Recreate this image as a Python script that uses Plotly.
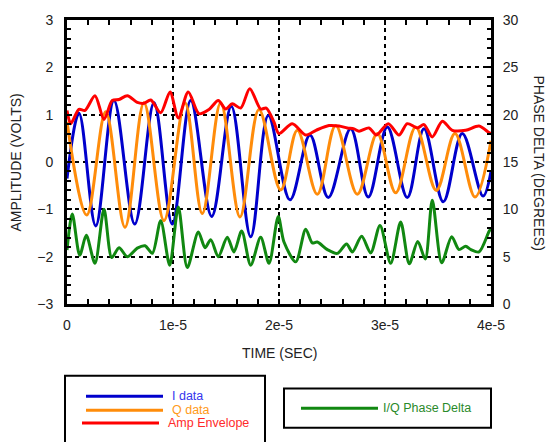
import plotly.graph_objects as go

# ---------------- data (time in microseconds) ----------------
i_t = [0, 1.13, 2.71, 4.43, 6.39, 8.21, 9.93, 11.67, 13.65, 15.50, 17.33, 18.99,
       21.04, 22.92, 24.65, 26.76, 28.42, 30.22, 32.10, 33.68, 35.50, 37.29, 39.25, 40.0]
i_v = [-0.35, 1.03, -1.35, 1.30, -1.31, 1.25, -1.31, 1.30, -1.15, 1.18, -1.58, 0.98,
       -0.80, 0.57, -0.75, 0.70, -0.74, 0.74, -0.75, 0.70, -0.84, 0.60, -0.72, -0.20]

q_t = [0, 1.86, 3.65, 5.47, 7.26, 9.15, 11.13, 12.76, 14.50, 16.32, 18.11,
       20.16, 21.73, 23.61, 25.35, 27.39, 29.27, 31.01, 32.90, 34.84, 36.60, 38.49, 40.0]
q_v = [0.85, -1.12, 1.06, -1.38, 1.25, -1.24, 1.25, -1.09, 1.25, -1.16, 1.11,
       -0.59, 0.67, -0.68, 0.77, -0.68, 0.60, -0.65, 0.74, -0.60, 0.60, -0.74, 0.45]

amp_t = [0, 0.35, 1.13, 1.70, 2.64, 3.49, 4.27, 4.91, 5.69, 6.63, 7.26, 7.90, 8.84,
         9.72, 10.50, 11.44, 12.45, 13.40, 14.27, 14.97, 15.59, 16.39, 17.24, 18.27,
         18.80, 19.53, 20.0, 21.25, 22.52, 23.49, 24.72, 25.66, 26.44, 27.08, 27.55,
         28.49, 29.18, 30.31, 31.32, 32.10, 33.05, 33.68, 34.46, 35.41, 36.35, 37.61,
         38.87, 39.81, 40.0]
amp_v = [1.09, 0.81, 1.11, 1.09, 1.40, 0.90, 1.30, 1.32, 1.40, 1.26, 1.24, 1.31, 1.04,
         1.48, 0.93, 1.48, 1.02, 1.11, 1.30, 1.12, 1.23, 1.14, 1.55, 1.12,
         1.14, 0.84, 0.60, 0.81, 0.57, 0.67, 0.77, 0.76, 0.72, 0.70, 0.65,
         0.72, 0.57, 0.81, 0.57, 0.81, 0.72, 0.79, 0.53, 0.86, 0.67, 0.67,
         0.76, 0.62, 0.60]

ph_t = [0, 0.5, 1.20, 1.82, 2.64, 3.49, 4.22, 4.91, 5.69, 6.63, 7.36, 8.05, 8.84,
        9.69, 10.50, 11.35, 12.39, 13.02, 13.56, 14.27, 15.12, 15.75, 16.48, 17.33,
        18.27, 19.06, 19.93, 20.47, 21.58, 22.52, 23.14, 23.61, 24.56, 25.50, 26.37,
        26.92, 27.80, 28.65, 29.53, 30.54, 31.48, 32.29, 33.09, 33.80, 34.46, 35.35,
        36.29, 36.98, 37.61, 38.11, 38.87, 39.81, 40.0]
ph_v = [5.7, 9.5, 5.15, 7.25, 4.3, 10.0, 4.9, 5.95, 5.0, 5.9, 6.15, 5.35, 8.8,
        4.1, 10.25, 3.85, 7.6, 5.95, 6.8, 5.0, 7.05, 5.5, 7.7, 4.1,
        7.05, 4.3, 9.25, 6.55, 4.45, 7.9, 6.45, 6.55, 5.75, 5.35, 6.35,
        5.5, 7.15, 5.4, 8.3, 4.3, 8.65, 4.25, 6.6, 4.75, 10.95, 4.35,
        7.1, 5.75, 6.1, 5.75, 5.5, 7.65, 8.0]

x_tickvals = [0, 1e-5, 2e-5, 3e-5, 4e-5]
x_ticktext = ["0", "1e-5", "2e-5", "3e-5", "4e-5"]

US = 1e-6
FONT = "Liberation Sans, Arial, sans-serif"
FS = 14

C_I, C_Q, C_A, C_P = "#0000cc", "#ff8c0a", "#ff0000", "#118811"

fig = go.Figure()
fig.add_trace(go.Scatter(x=[t * US for t in i_t], y=i_v, mode="lines",
                         line=dict(color=C_I, width=3, shape="spline", smoothing=1.0),
                         name="I data", showlegend=False))
fig.add_trace(go.Scatter(x=[t * US for t in q_t], y=q_v, mode="lines",
                         line=dict(color=C_Q, width=3, shape="spline", smoothing=1.0),
                         name="Q data", showlegend=False))
fig.add_trace(go.Scatter(x=[t * US for t in amp_t], y=amp_v, mode="lines",
                         line=dict(color=C_A, width=3, shape="spline", smoothing=0.8),
                         name="Amp Envelope", showlegend=False))
fig.add_trace(go.Scatter(x=[t * US for t in ph_t], y=ph_v, mode="lines", yaxis="y2",
                         line=dict(color=C_P, width=3, shape="spline", smoothing=0.8),
                         name="I/Q Phase Delta", showlegend=False))

# plot area in pixels
L, R, T, B = 67, 491, 15, 304
W, H = 550, 442


def px(x):
    return (x - L) / (R - L)


def py(y):
    return (B - y) / (B - T)


grid = dict(showgrid=True, gridcolor="black", gridwidth=2, griddash="4px,4px")
tickstyle = dict(ticks="inside", ticklen=5, tickwidth=1.5, tickcolor="black")

fig.update_layout(
    width=W, height=H,
    margin=dict(l=L, r=W - R, t=T, b=H - B),
    paper_bgcolor="white", plot_bgcolor="white",
    font=dict(family=FONT, size=FS, color="#222"),
    xaxis=dict(range=[0, 4e-5], tickmode="array", tickvals=x_tickvals, ticktext=x_ticktext,
               minor=dict(tickmode="linear", tick0=0, dtick=2e-6, ticks="inside",
                          ticklen=4, tickwidth=1.5, tickcolor="black", showgrid=False),
               showline=True, linecolor="black", linewidth=3, mirror="allticks",
               zeroline=False, tickfont=dict(size=FS, color="#222"),
               ticklabelstandoff=6, **tickstyle, **grid),
    yaxis=dict(range=[-3, 3], tickmode="linear", tick0=-3, dtick=1,
               minor=dict(tickmode="linear", tick0=-3, dtick=0.2, ticks="inside",
                          ticklen=4, tickwidth=1.5, tickcolor="black", showgrid=False),
               showline=True, linecolor="black", linewidth=3, mirror="allticks",
               zeroline=False, tickfont=dict(size=FS, color="#222"),
               ticklabelstandoff=8, **tickstyle, **grid),
    yaxis2=dict(range=[0, 30], overlaying="y", side="right", tickmode="linear",
                tick0=0, dtick=5,
                minor=dict(tickmode="linear", tick0=0, dtick=1, ticks="inside",
                           ticklen=4, tickwidth=1.5, tickcolor="black", showgrid=False),
                showgrid=False, zeroline=False,
                showline=True, linecolor="black", linewidth=3,
                tickfont=dict(size=FS, color="#222"), ticklabelstandoff=6, **tickstyle),
    showlegend=False,
)

ann = []
ann.append(dict(text="TIME (SEC)", x=px(279), y=py(354), xref="paper", yref="paper",
                showarrow=False, font=dict(size=FS, color="#222"), xanchor="center", yanchor="middle"))
ann.append(dict(text="AMPLITUDE (VOLTS)", x=px(16), y=py(160), xref="paper", yref="paper",
                showarrow=False, textangle=-90, font=dict(size=FS, color="#222"),
                xanchor="center", yanchor="middle"))
ann.append(dict(text="PHASE DELTA (DEGREES)", x=px(539), y=py(160), xref="paper", yref="paper",
                showarrow=False, textangle=90, font=dict(size=FS, color="#222"),
                xanchor="center", yanchor="middle"))

shapes = []
# legend boxes
shapes.append(dict(type="rect", xref="paper", yref="paper", x0=px(65), x1=px(265),
                   y0=py(460), y1=py(377), line=dict(color="black", width=2)))
shapes.append(dict(type="rect", xref="paper", yref="paper", x0=px(284), x1=px(491),
                   y0=py(430), y1=py(390), line=dict(color="black", width=2)))

legend_items = [
    ("I data", C_I, "#3535ee", 86, 163, 398, 171),
    ("Q data", C_Q, "#ff9a1a", 86, 163, 412, 171),
    ("Amp Envelope", C_A, "#ff2a2a", 82, 159, 425, 167),
    ("I/Q Phase Delta", C_P, "#2a8a2a", 301, 378, 410, 382),
]
for name, lc, tc, x0, x1, yy, tx in legend_items:
    shapes.append(dict(type="line", xref="paper", yref="paper", x0=px(x0), x1=px(x1),
                       y0=py(yy), y1=py(yy), line=dict(color=lc, width=3)))
    ann.append(dict(text=name, x=px(tx), y=py(yy), xref="paper", yref="paper",
                    showarrow=False, xanchor="left", yanchor="middle",
                    borderpad=0, font=dict(size=12.5, color=tc)))

fig.update_layout(annotations=ann, shapes=shapes)

fig.write_html("out.html")
